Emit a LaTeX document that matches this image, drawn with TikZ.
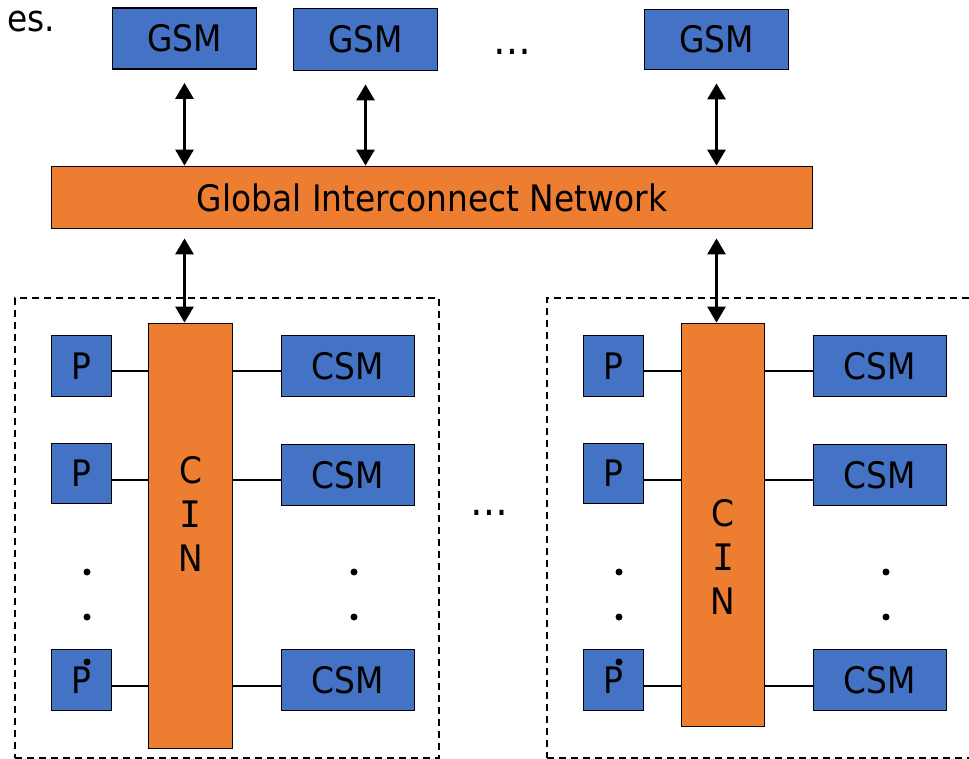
\documentclass[tikz,border=0pt]{standalone}
\usepackage{fontspec}
\setmainfont{DejaVu Sans}[FakeStretch=0.9]
\newfontfamily\monofnt{DejaVu Sans Mono}
\usetikzlibrary{arrows.meta}
\definecolor{boxblue}{HTML}{4472C4}
\definecolor{netorange}{HTML}{ED7D31}
\begin{document}
\begin{tikzpicture}[x=1pt,y=-1pt,
  big/.style={font=\fontsize{36.5}{44}\selectfont},
  mem/.style={big, draw=black, line width=1.8pt, fill=boxblue, inner sep=0pt},
  net/.style={big, draw=black, line width=1.8pt, fill=netorange, inner sep=0pt},
  link/.style={line width=1.4pt},
  dbl/.style={line width=2.8pt, {Triangle[length=16pt,width=18pt]}-{Triangle[length=16pt,width=18pt]}},
  cluster/.style={draw=black, line width=1.3pt, dash pattern=on 7pt off 5pt, inner sep=0pt},
  dotmark/.style={circle, fill=black, inner sep=0pt, minimum size=7pt},
  ell/.style={font=\fontsize{42}{44}\selectfont, inner sep=0pt, anchor=base}]
\useasboundingbox (0,0) rectangle (969,759);

% fragment of text at top left
\node[big, anchor=base west, inner sep=0pt] (frag) at (7,32) {es.};

% global shared memories
\node[mem, minimum width=144pt, minimum height=61pt] (gsm1) at (184.5,38.5) {GSM};
\node[mem, minimum width=144pt, minimum height=62pt] (gsm2) at (365.5,39.5) {GSM};
\node[mem, minimum width=144pt, minimum height=60pt] (gsm3) at (716.5,39.5) {GSM};
\node[ell] (topdots) at (512,55) {…};

% global interconnect network
\node[net, minimum width=761pt, minimum height=62pt] (gin) at (432,197.5) {Global Interconnect Network};

% clusters (dashed)
\node[cluster, minimum width=424pt, minimum height=460pt] (lclust) at (227,528) {};
\node[cluster, minimum width=443pt, minimum height=460pt] (rclust) at (768.5,528) {};

% cluster interconnect networks
\node[net, minimum width=84pt, minimum height=425pt] (lcin) at (190.5,536) {};
\node[big, align=center, inner sep=0pt] (lcintext) at (190.5,514) {C\\{\monofnt I}\\N};
\node[net, minimum width=83pt, minimum height=403pt] (rcin) at (723,525) {};
\node[big, align=center, inner sep=0pt] (rcintext) at (723,557) {C\\{\monofnt I}\\N};

% left cluster processors and memories
\node[mem, minimum width=60pt, minimum height=61pt] (lp1) at (81.5,366) {P};
\node[mem, minimum width=60pt, minimum height=60pt] (lp2) at (81.5,473.5) {P};
\node[mem, minimum width=60pt, minimum height=61pt] (lp3) at (81.5,680) {P};
\node[mem, minimum width=133pt, minimum height=61pt] (lc1) at (348,366) {CSM};
\node[mem, minimum width=133pt, minimum height=61pt] (lc2) at (348,475) {CSM};
\node[mem, minimum width=133pt, minimum height=61pt] (lc3) at (348,680) {CSM};

% right cluster processors and memories
\node[mem, minimum width=60pt, minimum height=61pt] (rp1) at (613.5,366) {P};
\node[mem, minimum width=60pt, minimum height=60pt] (rp2) at (613.5,473.5) {P};
\node[mem, minimum width=60pt, minimum height=61pt] (rp3) at (613.5,680) {P};
\node[mem, minimum width=133pt, minimum height=61pt] (rc1) at (880,366) {CSM};
\node[mem, minimum width=133pt, minimum height=61pt] (rc2) at (880,475) {CSM};
\node[mem, minimum width=133pt, minimum height=61pt] (rc3) at (880,680) {CSM};

\node[ell] (middots) at (489,515) {…};

% links inside clusters
\foreach \cin/\p/\c in {lcin/lp/lc, rcin/rp/rc}{
  \draw[link] (\p1.east |- 0,371) -- (\cin.west |- 0,371);
  \draw[link] (\p2.east |- 0,480) -- (\cin.west |- 0,480);
  \draw[link] (\p3.east |- 0,686) -- (\cin.west |- 0,686);
  \draw[link] (\cin.east |- 0,371) -- (\c1.west |- 0,371);
  \draw[link] (\cin.east |- 0,480) -- (\c2.west |- 0,480);
  \draw[link] (\cin.east |- 0,686) -- (\c3.west |- 0,686);
}

% vertical dots
\node[dotmark] (ldp1) at (87,572) {};
\node[dotmark] (ldp2) at (87,617) {};
\node[dotmark] (ldp3) at (87,662) {};
\node[dotmark] (ldc1) at (354,572) {};
\node[dotmark] (ldc2) at (354,617) {};
\node[dotmark] (rdp1) at (619,572) {};
\node[dotmark] (rdp2) at (619,617) {};
\node[dotmark] (rdp3) at (619,662) {};
\node[dotmark] (rdc1) at (886,572) {};
\node[dotmark] (rdc2) at (886,617) {};

% arrows
\draw[dbl] ([yshift=-13pt]gsm1.south) -- (gin.north -| gsm1.south);
\draw[dbl] ([yshift=-13pt]gsm2.south) -- (gin.north -| gsm2.south);
\draw[dbl] ([yshift=-13pt]gsm3.south) -- (gin.north -| gsm3.south);
\draw[dbl] ([yshift=-9pt]gin.south -| gsm1.south) -- (lcin.north -| gsm1.south);
\draw[dbl] ([yshift=-9pt]gin.south -| gsm3.south) -- (rcin.north -| gsm3.south);
\end{tikzpicture}
\end{document}
